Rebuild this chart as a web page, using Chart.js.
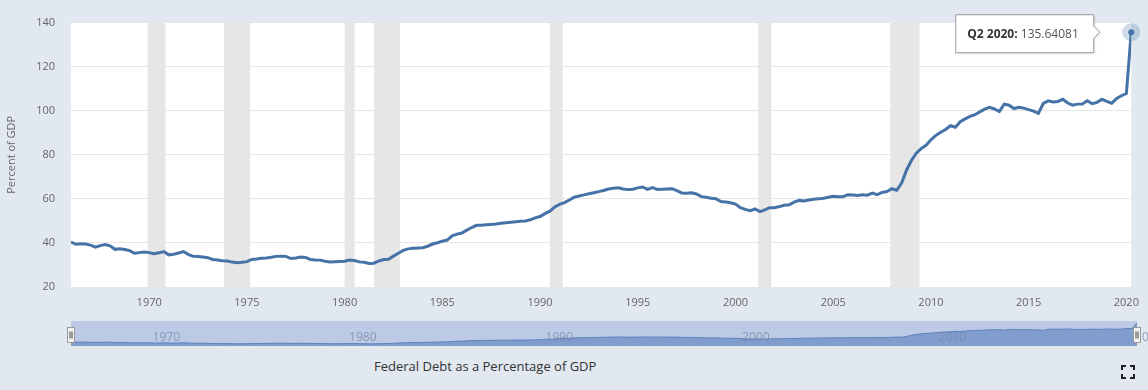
<!DOCTYPE html>
<html>
<head>
<meta charset="utf-8">
<script src="https://cdn.jsdelivr.net/npm/chart.js@4.4.0/dist/chart.umd.min.js"></script>
<style>
  body { margin: 0; background: #e1e8f0; width: 1148px; height: 390px; overflow: hidden; position: relative; font-family: "Open Sans", sans-serif; }
  #main { position: absolute; left: 0; top: 0; }
  #nav { position: absolute; left: 0; top: 315px; }
  #title { position: absolute; left: 374px; top: 357px; font-size: 13px; line-height: 18px; color: #333; white-space: nowrap; }
  #full { position: absolute; left: 1121px; top: 365px; }
</style>
</head>
<body>
<canvas id="main" width="1148" height="315"></canvas>
<canvas id="nav" width="1148" height="40"></canvas>
<div id="title">Federal Debt as a Percentage of GDP</div>
<svg id="full" width="14" height="14" viewBox="0 0 14 14">
  <path d="M1 5V1h4M9 1h4v4M13 9v4H9M5 13H1V9" fill="none" stroke="#222" stroke-width="2"/>
</svg>
<script>
// quarterly values, Q1 1966 .. Q2 2020
var firstYear = 1966;
var debt1960s = [40.4, 39.4, 39.6, 39.5, 39.0, 38.1, 38.8, 39.3, 38.7, 37.1, 37.4, 37.0, 36.5, 35.3, 35.6, 35.9];
var debt1970s = [35.6, 35.1, 35.5, 36.1, 34.6, 34.9, 35.4, 36.1, 34.8, 33.9, 33.8, 33.6, 33.3, 32.5, 32.3, 31.9,
                 31.8, 31.3, 31.0, 31.2, 31.5, 32.5, 32.7, 33.0, 33.2, 33.5, 33.9, 34.0, 33.9, 32.9, 33.2, 33.6,
                 33.4, 32.5, 32.3, 32.2, 31.7, 31.4, 31.5, 31.6];
var debt1980s = [31.7, 32.2, 32.0, 31.4, 31.2, 30.7, 30.8, 31.8, 32.5, 32.6, 34.0, 35.3, 36.6, 37.3, 37.6, 37.7,
                 37.8, 38.5, 39.5, 40.1, 40.8, 41.3, 43.2, 44.0, 44.5, 45.8, 47.0, 48.0, 48.0, 48.2, 48.4, 48.6,
                 48.9, 49.2, 49.4, 49.6, 49.8, 50.0, 50.5, 51.4];
var debt1990s = [52.0, 53.3, 54.4, 56.3, 57.5, 58.3, 59.5, 60.8, 61.3, 61.8, 62.3, 62.8, 63.3, 63.8, 64.5, 64.8,
                 65.0, 64.5, 64.2, 64.4, 65.0, 65.4, 64.3, 65.1, 64.3, 64.4, 64.5, 64.6, 63.7, 62.7, 62.6, 62.8,
                 62.2, 61.0, 60.7, 60.3, 60.1, 58.8, 58.6, 58.2];
var debt2000s = [57.6, 56.0, 55.2, 54.6, 55.4, 54.2, 55.0, 56.0, 56.0, 56.5, 57.1, 57.3, 58.5, 59.3, 59.0, 59.5,
                 59.8, 60.0, 60.3, 60.7, 61.2, 61.0, 61.0, 61.9, 61.8, 61.5, 61.9, 61.7, 62.6, 61.9, 62.9, 63.3,
                 64.6, 63.9, 67.2, 73.0, 77.4, 80.7, 82.8, 84.3];
var debt2010s = [86.8, 88.8, 90.2, 91.5, 93.2, 92.5, 95.0, 96.3, 97.4, 98.2, 99.5, 100.7, 101.5, 100.8, 99.6, 103.0,
                 102.5, 101.0, 101.6, 101.2, 100.5, 99.8, 98.8, 103.3, 104.5, 104.0, 104.2, 105.2, 103.5, 102.5, 103.0, 103.1,
                 104.5, 103.2, 103.8, 105.2, 104.2, 103.4, 105.6, 106.8];
var debt2020s = [107.8, 135.64081];

var recessionStarts = [1969.917, 1973.833, 1980.0, 1981.5, 1990.5, 2001.167, 2007.917];
var recessionEnds   = [1970.833, 1975.167, 1980.5, 1982.833, 1991.167, 2001.833, 2009.417];

var yTicks = [20, 40, 60, 80, 100, 120, 140];
var xTicks = [1970, 1975, 1980, 1985, 1990, 1995, 2000, 2005, 2010, 2015, 2020];
var navTicks = [1970, 1980, 1990, 2000, 2010, 2020];

var debt = [].concat(debt1960s, debt1970s, debt1980s, debt1990s, debt2000s, debt2010s, debt2020s);
var points = debt.map(function (v, i) { return { x: firstYear + i / 4, y: v }; });
var lastX = points[points.length - 1].x;
var fontFamily = '"Open Sans", sans-serif';

var plotBg = {
    id: 'plotBg',
    beforeDraw: function (chart) {
        var a = chart.chartArea, c = chart.ctx;
        c.save();
        c.fillStyle = '#ffffff';
        c.fillRect(a.left, a.top, a.right - a.left, a.bottom - a.top);
        c.restore();
    }
};

var recessions = {
    id: 'recessions',
    beforeDatasetsDraw: function (chart) {
        var a = chart.chartArea, c = chart.ctx, x = chart.scales.x;
        c.save();
        c.fillStyle = '#e6e6e6';
        for (var i = 0; i < recessionStarts.length; i++) {
            var x0 = x.getPixelForValue(recessionStarts[i]);
            var x1 = x.getPixelForValue(recessionEnds[i]);
            c.fillRect(x0, a.top, x1 - x0, a.bottom - a.top);
        }
        c.restore();
    }
};

var lastTip = {
    id: 'lastTip',
    afterDraw: function (chart) {
        var c = chart.ctx;
        var meta = chart.getDatasetMeta(0);
        var n = debt.length - 1;
        var el = meta.data[n];
        var px = el.x, py = el.y;
        c.save();
        c.fillStyle = 'rgba(69,114,167,0.25)';
        c.beginPath(); c.arc(px, py, 9, 0, Math.PI * 2); c.fill();
        c.fillStyle = '#4572a7';
        c.beginPath(); c.arc(px, py, 3, 0, Math.PI * 2); c.fill();

        var q = 'Q' + (n % 4 + 1) + ' ' + (firstYear + Math.floor(n / 4)) + ':';
        var val = ' ' + debt[n];
        var right = px - 38, w = 138, h = 38;
        var left = right - w, top = py + 1 - h / 2, cy = py;
        c.shadowColor = 'rgba(0,0,0,0.12)';
        c.shadowOffsetX = 1; c.shadowOffsetY = 1; c.shadowBlur = 3;
        c.beginPath();
        c.moveTo(left + 0.5, top + 0.5);
        c.lineTo(right + 0.5, top + 0.5);
        c.lineTo(right + 0.5, cy - 6);
        c.lineTo(right + 6.5, cy);
        c.lineTo(right + 0.5, cy + 6);
        c.lineTo(right + 0.5, top + h + 0.5);
        c.lineTo(left + 0.5, top + h + 0.5);
        c.closePath();
        c.fillStyle = '#ffffff';
        c.fill();
        c.shadowColor = 'transparent';
        c.strokeStyle = '#9a9a9a';
        c.lineWidth = 1;
        c.stroke();

        c.textBaseline = 'middle';
        c.textAlign = 'left';
        c.font = 'bold 12px ' + fontFamily;
        c.fillStyle = '#333333';
        c.fillText(q, left + 12, top + h / 2 + 1);
        var qw = c.measureText(q).width;
        c.font = '12px ' + fontFamily;
        c.fillStyle = '#555555';
        c.fillText(val, left + 12 + qw, top + h / 2 + 1);
        c.restore();
    }
};

new Chart(document.getElementById('main').getContext('2d'), {
    type: 'line',
    data: {
        datasets: [{
            label: 'Federal Debt as a Percentage of GDP',
            data: points,
            borderColor: '#4572a7',
            borderWidth: 3,
            pointRadius: 0,
            tension: 0,
            fill: false
        }]
    },
    options: {
        responsive: false,
        animation: false,
        events: [],
        layout: { padding: { top: 11, right: 11, left: 0, bottom: 0 } },
        plugins: {
            legend: { display: false },
            tooltip: { enabled: false }
        },
        scales: {
            x: {
                type: 'linear',
                min: firstYear,
                max: lastX,
                afterBuildTicks: function (s) { s.ticks = xTicks.map(function (v) { return { value: v }; }); },
                afterFit: function (s) { s.height = 28; },
                grid: { display: false, drawTicks: false },
                border: { display: false },
                ticks: {
                    color: '#666666',
                    font: { size: 11, family: fontFamily },
                    padding: 9,
                    maxRotation: 0,
                    autoSkip: false,
                    callback: function (v) { return String(v); }
                }
            },
            y: {
                min: 20,
                max: 140,
                afterBuildTicks: function (s) { s.ticks = yTicks.map(function (v) { return { value: v }; }); },
                afterFit: function (s) { s.width = 71; },
                grid: { color: '#e6e6e6', drawTicks: false },
                border: { display: false },
                ticks: {
                    color: '#666666',
                    font: { size: 11, family: fontFamily },
                    padding: 16
                },
                title: {
                    display: true,
                    text: 'Percent of GDP',
                    color: '#666666',
                    font: { size: 11, family: fontFamily },
                    padding: { top: 5, bottom: 0 }
                }
            }
        }
    },
    plugins: [plotBg, recessions, lastTip]
});

// navigator strip
var navDecor = {
    id: 'navDecor',
    beforeDraw: function (chart) {
        var a = chart.chartArea, c = chart.ctx;
        c.save();
        c.fillStyle = '#bccae5';
        c.fillRect(a.left, a.top, a.right - a.left, a.bottom - a.top);
        c.restore();
    },
    afterDatasetsDraw: function (chart) {
        var a = chart.chartArea, c = chart.ctx, x = chart.scales.x;
        c.save();
        c.font = '12px ' + fontFamily;
        c.fillStyle = 'rgba(120,135,165,0.75)';
        c.textBaseline = 'middle';
        c.textAlign = 'left';
        navTicks.forEach(function (t) {
            c.fillText(String(t), x.getPixelForValue(t) + 3, a.top + 17);
        });
        [a.left, a.right].forEach(function (hx) {
            var l = Math.round(hx) - 3.5, t = a.top + 6.5;
            c.fillStyle = '#f2f2f2';
            c.strokeStyle = '#999999';
            c.lineWidth = 1;
            c.fillRect(l, t, 7, 15);
            c.strokeRect(l, t, 7, 15);
            c.strokeStyle = '#444444';
            c.beginPath();
            c.moveTo(l + 2.5, t + 4); c.lineTo(l + 2.5, t + 11);
            c.moveTo(l + 4.5, t + 4); c.lineTo(l + 4.5, t + 11);
            c.stroke();
        });
        c.restore();
    }
};

new Chart(document.getElementById('nav').getContext('2d'), {
    type: 'line',
    data: {
        datasets: [{
            data: points,
            borderColor: '#5f82bd',
            borderWidth: 1,
            backgroundColor: '#809dcd',
            fill: 'start',
            pointRadius: 0,
            tension: 0
        }]
    },
    options: {
        responsive: false,
        animation: false,
        events: [],
        layout: { padding: { left: 71, right: 11, top: 6, bottom: 9 } },
        plugins: { legend: { display: false }, tooltip: { enabled: false } },
        scales: {
            x: { type: 'linear', min: firstYear, max: lastX, display: false },
            y: { min: 20, max: 145, display: false }
        }
    },
    plugins: [navDecor]
});
</script>
</body>
</html>
